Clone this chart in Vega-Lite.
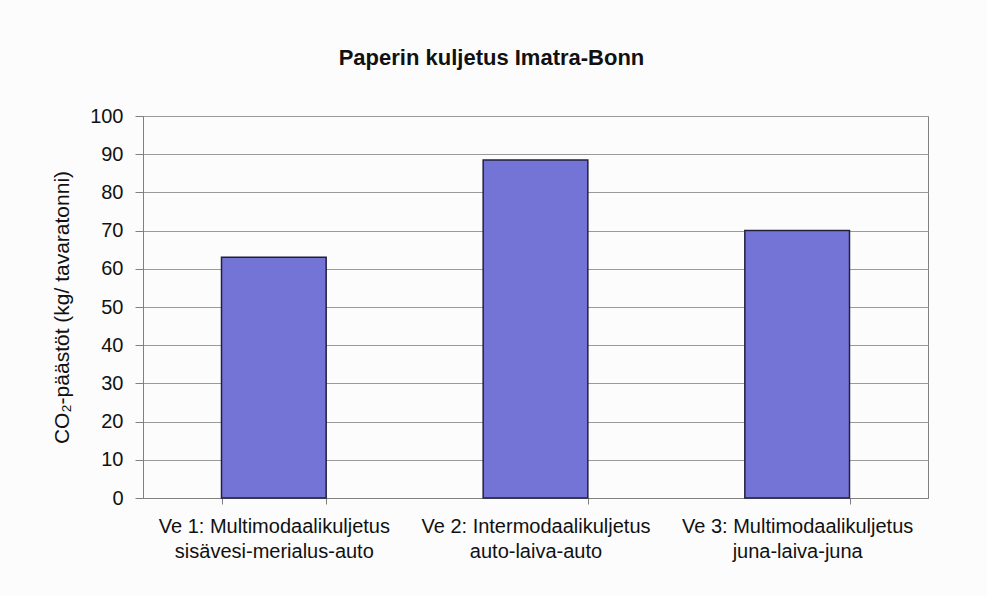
{
  "$schema": "https://vega.github.io/schema/vega-lite/v6.json",
  "autosize": {"type": "none"},
  "padding": {"left": 143, "top": 116, "right": 59, "bottom": 98},
  "width": 785,
  "height": 382,
  "background": "#fcfcfc",
  "title": {
    "text": "Paperin kuljetus Imatra-Bonn",
    "font": "Liberation Sans",
    "fontSize": 22,
    "fontWeight": "bold",
    "color": "#111111",
    "anchor": "middle",
    "frame": "group",
    "dx": -44,
    "offset": 36
  },
  "data": {
    "values": [
      {"vaihtoehto": "Ve 1: Multimodaalikuljetus|sisävesi-merialus-auto", "co2": 63},
      {"vaihtoehto": "Ve 2: Intermodaalikuljetus|auto-laiva-auto", "co2": 88.5},
      {"vaihtoehto": "Ve 3:  Multimodaalikuljetus|juna-laiva-juna", "co2": 70}
    ]
  },
  "mark": {"type": "bar", "color": "#7474D6", "stroke": "#20203a", "strokeWidth": 1.5},
  "encoding": {
    "x": {
      "field": "vaihtoehto",
      "type": "nominal",
      "sort": null,
      "scale": {"paddingInner": 0.6, "paddingOuter": 0.3},
      "axis": {
        "title": null,
        "labelAngle": 0,
        "labelExpr": "split(datum.label, '|')",
        "labelFont": "Liberation Sans",
        "labelFontSize": 20,
        "labelLimit": 0,
        "labelColor": "#111111",
        "labelLineHeight": 25,
        "labelPadding": 12,
        "tickBand": "extent",
        "tickSize": 6,
        "tickColor": "#808080",
        "domainColor": "#808080",
        "grid": false
      }
    },
    "y": {
      "field": "co2",
      "type": "quantitative",
      "scale": {"domain": [0, 100], "nice": false},
      "axis": {
        "title": "CO₂-päästöt (kg/ tavaratonni)",
        "titleFont": "Liberation Sans",
        "titleFontSize": 21,
        "titleFontWeight": "normal",
        "titleColor": "#111111",
        "titlePadding": 17,
        "values": [0, 10, 20, 30, 40, 50, 60, 70, 80, 90, 100],
        "labelFont": "Liberation Sans",
        "labelFontSize": 20,
        "labelColor": "#111111",
        "labelPadding": 12,
        "tickSize": 8,
        "tickColor": "#808080",
        "domainColor": "#808080",
        "gridColor": "#9a9a9a",
        "gridOpacity": 1
      }
    }
  },
  "config": {
    "view": {"stroke": "#808080", "strokeWidth": 1}
  }
}
